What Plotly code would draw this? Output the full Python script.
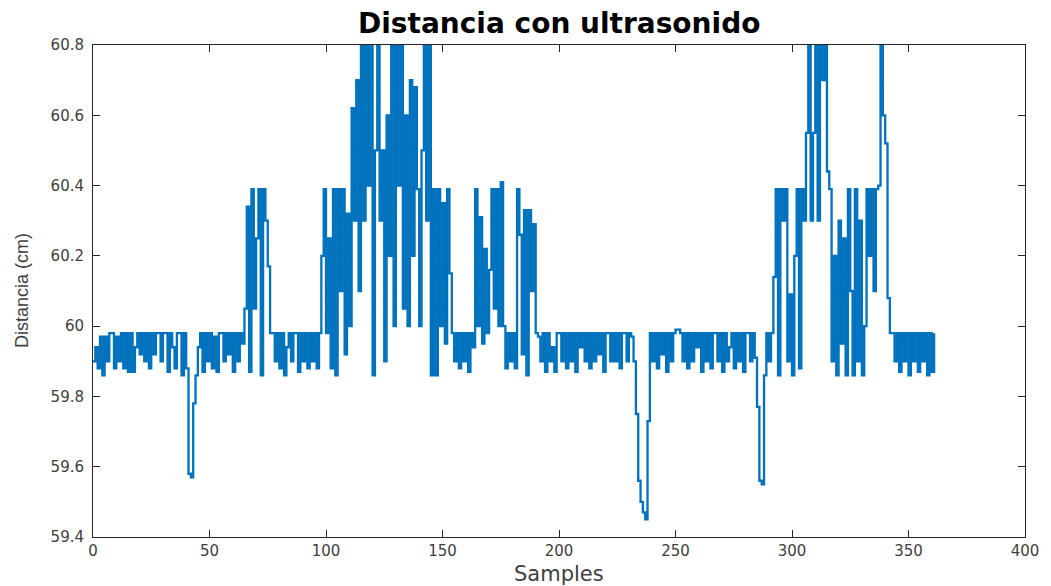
import plotly.graph_objects as go

# ---- data (sample values in cm) ----
seg_a = [59.9, 59.94, 59.88, 59.97, 59.86, 59.97, 59.9, 59.98, 59.98, 59.88,
         59.97, 59.9, 59.98, 59.88, 59.98, 59.87, 59.98, 59.87, 59.94, 59.98,
         59.92, 59.98, 59.9, 59.98, 59.88, 59.98, 59.92, 59.98, 59.98, 59.9,
         59.98, 59.98, 59.87, 59.98, 59.94, 59.88, 59.98, 59.98, 59.86, 59.98,
         59.88]
dip_1 = [59.58, 59.57, 59.78]
seg_a2 = [59.86, 59.94, 59.98, 59.87, 59.98, 59.9, 59.98, 59.88, 59.97, 59.87,
          59.98, 59.98, 59.9, 59.98, 59.92, 59.98, 59.87, 59.98, 59.9, 59.98,
          59.95]
seg_b = [60.05, 60.34, 59.87, 60.39, 60.05, 60.25, 60.39, 59.86, 60.39, 60.3,
         60.17]
seg_a3 = [59.98, 59.98, 59.9, 59.98, 59.88, 59.98, 59.86, 59.94, 59.98, 59.9,
          59.98, 59.98, 59.87, 59.98, 59.9, 59.98, 59.88, 59.98, 59.9, 59.98,
          59.88, 59.98]
seg_c = [60.2, 60.39, 59.98, 60.25, 59.88, 60.39, 59.86, 60.39, 60.1, 60.39,
         59.92, 60.32, 60.0, 60.62, 60.3, 60.7, 60.1, 60.8, 60.3, 60.8,
         60.4, 60.8, 59.86, 60.5, 60.8, 60.3, 60.5, 59.9, 60.6, 60.2,
         60.8, 60.0, 60.8, 60.4, 60.8, 60.05, 60.6, 60.0, 60.7, 60.2,
         60.68, 60.39, 60.0, 60.5, 60.8, 60.3, 60.8, 59.86, 60.39, 59.86,
         60.39, 60.0, 60.35, 59.95, 60.39, 60.15, 59.98]
seg_d = [59.9, 59.98, 59.88, 59.98, 59.9, 59.98, 59.87, 59.98, 59.94]
seg_e = [60.39, 60.0, 60.31, 59.95, 60.22, 59.98, 60.16, 60.39, 60.05, 60.39,
         60.0, 60.41, 60.0, 59.88, 59.98, 59.9, 59.98, 59.88, 60.39, 60.26,
         59.92, 60.33, 59.86, 60.33, 60.1, 60.29]
seg_f = [59.98, 59.97, 59.9, 59.98, 59.87, 59.98, 59.9, 59.94, 59.87, 59.98,
         59.98, 59.9, 59.98, 59.88, 59.98, 59.9, 59.98, 59.87, 59.98, 59.94,
         59.98, 59.9, 59.98, 59.88, 59.98, 59.9, 59.98, 59.92, 59.98, 59.87,
         59.98, 59.98, 59.9, 59.98, 59.9, 59.98, 59.88, 59.98, 59.98, 59.9,
         59.98, 59.97]
dip_2 = [59.9, 59.75, 59.56, 59.5, 59.47, 59.45, 59.73]
seg_f2 = [59.98, 59.9, 59.98, 59.88, 59.98, 59.92, 59.98, 59.87, 59.98, 59.9,
          59.98, 59.99, 59.99, 59.98, 59.9, 59.98, 59.88, 59.98, 59.9, 59.98,
          59.94, 59.98, 59.87, 59.98, 59.9, 59.98, 59.88, 59.98, 59.98, 59.9,
          59.98, 59.87, 59.98, 59.9, 59.94, 59.98, 59.88, 59.98, 59.9, 59.98,
          59.87, 59.98, 59.98, 59.9, 59.98]
dip_3 = [59.91, 59.77, 59.56, 59.55, 59.86]
seg_f3 = [59.98, 59.9, 59.98]
seg_g = [60.14, 60.39, 59.86, 60.39, 60.3, 60.39, 59.9, 60.09, 59.86, 60.2,
         60.39, 59.88, 60.39, 60.3, 60.55, 60.8, 60.3, 60.55, 60.8, 60.3,
         60.8, 60.7, 60.8, 60.44, 60.39, 59.9, 60.2, 59.86, 60.3, 59.95,
         60.25, 59.86, 60.39, 60.1, 59.86, 60.39, 59.9, 60.3, 59.86, 60.0,
         60.39, 60.2, 60.39, 60.1, 60.39, 60.4, 60.8, 60.6, 60.52, 60.08]
seg_h = [59.98, 59.98, 59.9, 59.98, 59.87, 59.98, 59.9, 59.98, 59.86, 59.98,
         59.9, 59.98, 59.87, 59.98, 59.9, 59.98, 59.86, 59.98, 59.87, 59.98]

distance = (seg_a + dip_1 + seg_a2 + seg_b + seg_a3 + seg_c + seg_d + seg_e +
            seg_f + dip_2 + seg_f2 + dip_3 + seg_f3 + seg_g + seg_h)
samples = list(range(len(distance)))

x_ticks = [0, 50, 100, 150, 200, 250, 300, 350, 400]
y_ticks = [59.4, 59.6, 59.8, 60.0, 60.2, 60.4, 60.6, 60.8]
y_tick_text = ["59.4", "59.6", "59.8", "60", "60.2", "60.4", "60.6", "60.8"]

FONT = "DejaVu Sans, Liberation Sans, Arial, sans-serif"
AXCOL = "#262626"
TXTCOL = "#404040"

fig = go.Figure()
fig.add_trace(go.Scatter(
    x=samples, y=distance, mode="lines",
    line=dict(color="#0072BD", width=2.3, shape="hv"),
    showlegend=False,
))

axis_common = dict(
    showgrid=False, zeroline=False, showline=True, linecolor=AXCOL, linewidth=1,
    mirror="allticks", ticks="inside", ticklen=7, tickcolor=AXCOL, tickwidth=1,
    tickfont=dict(family=FONT, size=15, color=TXTCOL),
)

fig.update_layout(
    width=1051, height=586,
    margin=dict(l=93, r=20, t=45, b=49),
    paper_bgcolor="white", plot_bgcolor="white",
    xaxis=dict(range=[0, 400], tickvals=x_ticks, **axis_common),
    yaxis=dict(range=[59.4, 60.8], tickvals=y_ticks, ticktext=y_tick_text,
               ticklabelstandoff=5, **axis_common),
    annotations=[
        dict(text="<b>Distancia con ultrasonido</b>", xref="paper", yref="paper",
             x=0.5, y=1, yshift=22, showarrow=False, yanchor="middle",
             font=dict(family=FONT, size=28, color="black")),
        dict(text="Samples", xref="paper", yref="paper", x=0.5, y=0,
             yshift=-37, showarrow=False, yanchor="middle",
             font=dict(family=FONT, size=21, color=TXTCOL)),
        dict(text="Distancia (cm)", xref="paper", yref="paper", x=0, y=0.5,
             xshift=-71, showarrow=False, textangle=-90, xanchor="center",
             font=dict(family="Liberation Sans Narrow, Liberation Sans, Arial", size=18, color=TXTCOL)),
    ],
)

fig.write_html("out.html")
